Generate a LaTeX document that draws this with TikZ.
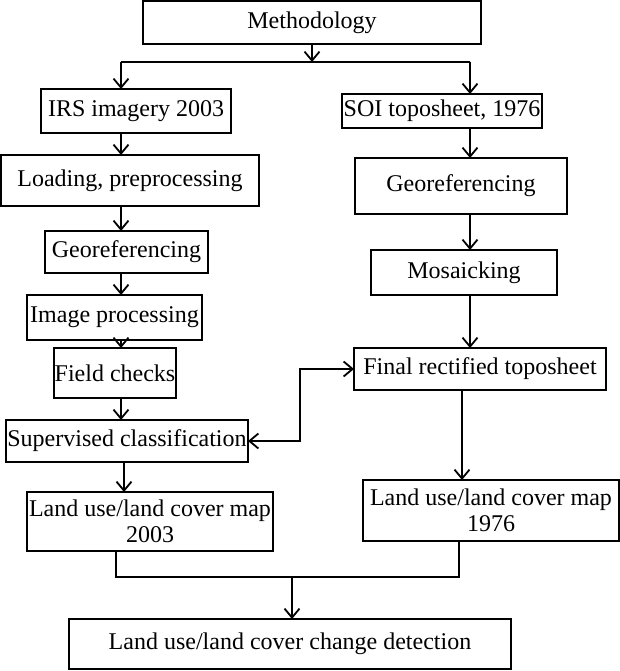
\documentclass[tikz,border=0pt]{standalone}
\usepackage{fontspec}
\setmainfont{Liberation Serif}
\usetikzlibrary{arrows.meta}
\begin{document}
\begin{tikzpicture}[x=1pt,y=1pt,
  box/.style={draw, line width=1.8pt, inner sep=0pt, outer sep=0pt, align=center,
    font=\fontsize{24}{25.5}\selectfont},
  conn/.style={line width=1.8pt},
  arr/.style={conn, -{Straight Barb[length=9pt,width=15pt]}},
  dbl/.style={conn, {Straight Barb[length=9pt,width=15pt]}-{Straight Barb[length=9pt,width=15pt]}}]
\useasboundingbox (0,0) rectangle (620,-671);
\node[box, minimum width=338, minimum height=43] (meth) at (312,-22.5) {Methodology};
\node[box, minimum width=190, minimum height=44] (irs) at (136,-111) {IRS imagery 2003};
\node[box, minimum width=200, minimum height=34] (soi) at (442,-111) {SOI toposheet, 1976};
\node[box, minimum width=258, minimum height=51] (load) at (130,-180.5) {Loading, preprocessing};
\node[box, minimum width=212, minimum height=56] (geoR) at (461,-186) {Georeferencing};
\node[box, minimum width=163, minimum height=42] (geoL) at (126.5,-252) {Georeferencing};
\node[box, minimum width=175, minimum height=45] (imgp) at (114.5,-317.5) {Image processing};
\node[box, minimum width=186, minimum height=45] (mosa) at (464,-272.5) {Mosaicking};
\node[box, minimum width=122, minimum height=50] (field) at (115,-373) {Field checks};
\node[box, minimum width=242, minimum height=42] (sup) at (127,-441) {Supervised classification};
\node[box, minimum width=252, minimum height=42] (final) at (480,-369) {Final rectified toposheet};
\node[box, minimum width=246, minimum height=59] (land03) at (150,-521.5) {Land use/land cover map\\2003\hspace{18pt}};
\node[box, minimum width=256, minimum height=61] (land76) at (491,-510.5) {Land use/land cover map\\1976};
\node[box, minimum width=442, minimum height=50] (change) at (290,-644) {Land use/land cover change detection};

\coordinate (split) at (312,-62);
\coordinate (L) at (121,0);
\coordinate (R) at (470,0);
\coordinate (L2) at (124,0);
\coordinate (R2) at (462,0);
\coordinate (D) at (300,0);
\coordinate (bl) at (116,-577);
\coordinate (br) at (459,-577);
\coordinate (bm) at (292,-577);

\draw[arr] (meth) -- (split);
\draw[conn] (L |- split) -- (R |- split);
\draw[arr] (L |- split) -- (L |- irs.north);
\draw[arr] (R |- split) -- (R |- soi.north);
\draw[arr] (L |- irs.south) -- (L |- load.north);
\draw[arr] (L |- load.south) -- (L |- geoL.north);
\draw[arr] (L |- geoL.south) -- (L |- imgp.north);
\draw[arr] (L |- imgp.south) -- (L |- field.north);
\draw[arr] (L |- field.south) -- (L |- sup.north);
\draw[arr] (L2 |- sup.south) -- (L2 |- land03.north);
\draw[arr] (R |- soi.south) -- (R |- geoR.north);
\draw[arr] (R |- geoR.south) -- (R |- mosa.north);
\draw[arr] (R |- mosa.south) -- (R |- final.north);
\draw[arr] (R2 |- final.south) -- (R2 |- land76.north);
\draw[dbl] (sup.east) -- (sup.east -| D) -- (D |- final.west) -- (final.west);
\draw[conn] (bl |- land03.south) -- (bl) -- (br) -- (br |- land76.south);
\draw[arr] (bm) -- (bm |- change.north);
\end{tikzpicture}
\end{document}
